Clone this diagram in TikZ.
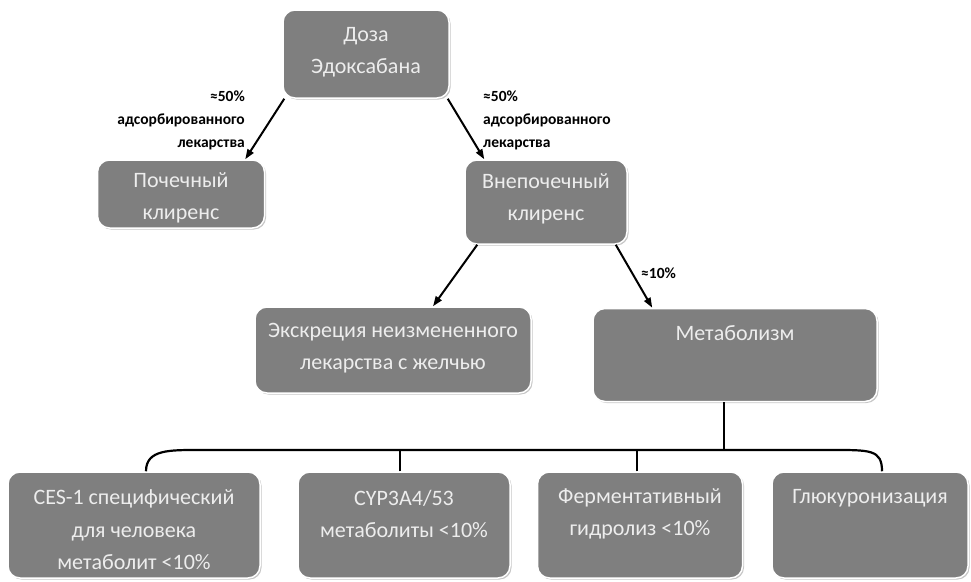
\documentclass[tikz,border=0pt]{standalone}
\usepackage{fontspec}
\setmainfont{Carlito}
\usetikzlibrary{arrows.meta,shadows,calc}
\definecolor{boxgray}{HTML}{7F7F7F}
\definecolor{boxtext}{HTML}{EDEDED}
\begin{document}
\begin{tikzpicture}[x=1pt,y=-1pt,
  box/.style={draw=white, line width=1.5pt, fill=boxgray, rounded corners=12pt,
    drop shadow={shadow xshift=1.5pt, shadow yshift=-1.5pt, opacity=0.45},
    inner sep=0pt},
  btext/.style={text=boxtext, font=\fontsize{22}{32.5}\selectfont, align=center, inner sep=0pt},
  lbl/.style={font=\bfseries\fontsize{15.5}{23}\selectfont, inner sep=0pt},
  arr/.style={line width=2pt, -{Triangle[length=10pt,width=7pt]}},
  bus/.style={line width=2.2pt}]
\useasboundingbox (0,0) rectangle (971,581);
% boxes
\node[box, minimum width=166pt, minimum height=88pt] (dose) at (366,54) {};
\node[btext] (tdose) at (366,52) {Доза\\Эдоксабана};
\node[box, minimum width=167pt, minimum height=68pt] (renal) at (181,194) {};
\node[btext] (trenal) at (181,198) {Почечный\\клиренс};
\node[box, minimum width=162pt, minimum height=84pt] (nonrenal) at (546,202) {};
\node[btext] (tnonrenal) at (546,199) {Внепочечный\\клиренс};
\node[box, minimum width=276pt, minimum height=86pt] (bile) at (393,350) {};
\node[btext] (tbile) at (393,348) {Экскреция неизмененного\\лекарства с желчью};
\node[box, minimum width=284pt, minimum height=93pt] (metab) at (735,355) {};
\node[btext] (tmetab) at (735,333) {Метаболизм};
\node[box, minimum width=252pt, minimum height=106pt] (ces) at (134,525) {};
\node[btext] (tces) at (134,530) {CES-1 специфический\\для человека\\метаболит <10\%};
\node[box, minimum width=212pt, minimum height=106pt] (cyp) at (404,525) {};
\node[btext] (tcyp) at (404,514) {CYP3A4/53\\метаболиты <10\%};
\node[box, minimum width=205pt, minimum height=106pt] (ferm) at (640,525) {};
\node[btext] (tferm) at (640,514) {Ферментативный\\гидролиз <10\%};
\node[box, minimum width=196pt, minimum height=106pt] (gluc) at (870,525) {};
\node[btext] (tgluc) at (870,498) {Глюкуронизация};
% labels
\node[lbl, align=right, anchor=east] (l1) at (245,120) {≈50\%\\адсорбированного\\лекарства};
\node[lbl, align=left, anchor=west] (l2) at (483,120) {≈50\%\\адсорбированного\\лекарства};
\node[lbl, anchor=west] (l3) at (641,273) {≈10\%};
% arrows
\draw[arr] ([xshift=2pt]dose.south west) -- ([xshift=-20pt]renal.north east);
\draw[arr] ([xshift=-2pt]dose.south east) -- ([xshift=20pt]nonrenal.north west);
\draw[arr] ([xshift=13pt]nonrenal.south west) -- ([xshift=40pt]bile.north);
\draw[arr] ([xshift=-12pt]nonrenal.south east) -- ([xshift=60pt]metab.north west);
% bus
\coordinate (busM) at (724,450);
\draw[bus] (metab.south -| busM) -- (busM);
\draw[bus] ([xshift=12pt]ces.north) .. controls ([xshift=12pt]$(ces.north)+(0,-22)$) and (170,450) .. (200,450)
  -- (830,450) .. controls (870,450) and ([xshift=12pt]$(gluc.north)+(0,-22)$) .. ([xshift=12pt]gluc.north);
\draw[bus] (cyp.north -| 400,0) -- (400,450);
\draw[bus] (ferm.north -| 637,0) -- (637,450);
\end{tikzpicture}
\end{document}
